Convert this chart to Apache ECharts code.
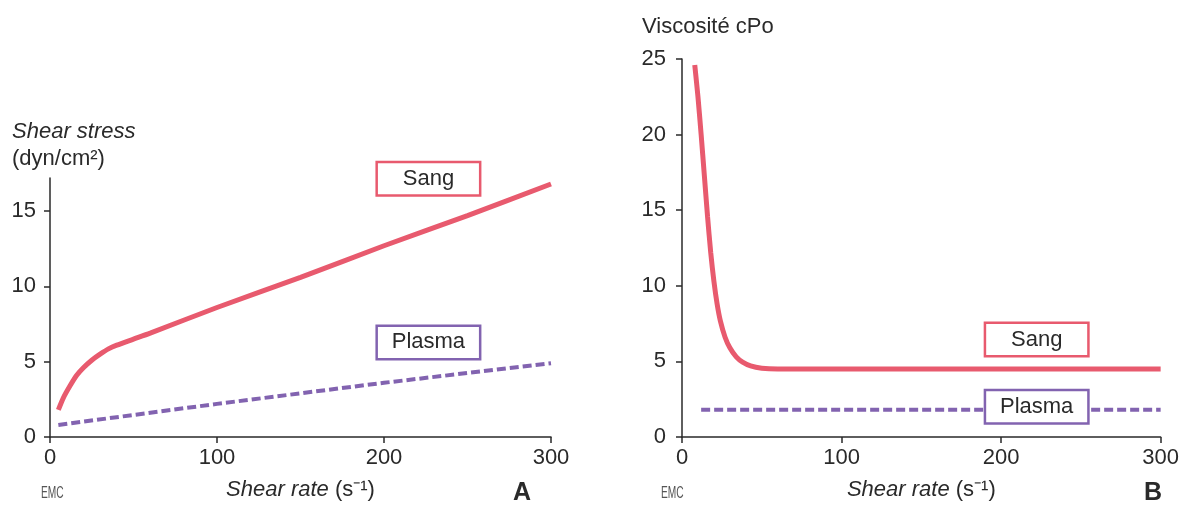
<!DOCTYPE html>
<html>
<head>
<meta charset="utf-8">
<script src="https://cdn.jsdelivr.net/npm/echarts@6/dist/echarts.min.js"></script>
<style>
  html, body { margin: 0; padding: 0; background: #fff; }
  #chart { width: 1182px; height: 506px; }
</style>
</head>
<body>
<div id="chart"></div>
<script>
// valeurs (shear rate en s-1)
const stressTicks = [0, 5, 10, 15]
const viscTicks = [0, 5, 10, 15, 20, 25]
const rateTicks = [0, 100, 200, 300]

// A : contrainte de cisaillement
const sangStress = [
  [5, 1.8], [8, 2.6], [12, 3.4], [16, 4.1], [20, 4.6], [25, 5.1], [30, 5.5],
  [35, 5.85], [40, 6.1], [50, 6.5], [60, 6.9], [100, 8.6], [150, 10.6],
  [200, 12.7], [250, 14.7], [300, 16.8]
]
const plasmaStress = [[5, 0.8], [100, 2.2], [200, 3.6], [300, 4.9]]

// B : viscosité
const sangVisc = [
  [8, 24.6], [10, 22.5], [12, 20.0], [14, 17.3], [16, 14.6], [18, 12.2],
  [20, 10.3], [22, 8.8], [24, 7.7], [27, 6.6], [30, 5.9], [34, 5.3],
  [38, 4.95], [43, 4.7], [50, 4.55], [60, 4.5], [150, 4.5], [300, 4.5]
]
const plasmaVisc = [[12, 1.8], [300, 1.8]]

const RED = '#e85a6e'
const PURPLE = '#8263b0'
const INK = '#2a2a2a'
const FONT = '"Liberation Sans", Arial, sans-serif'

const chart = echarts.init(document.getElementById('chart'))

function xAxis(idx) {
  return {
    type: 'value', gridIndex: idx, min: 0, max: 300, interval: 100,
    axisLine: { lineStyle: { color: INK, width: 1.5 } },
    axisTick: { length: 6, customValues: rateTicks, lineStyle: { color: INK, width: 1.5 } },
    axisLabel: { color: INK, fontSize: 22, fontFamily: FONT, margin: 10, customValues: rateTicks },
    splitLine: { show: false },
    name: '{i|Shear rate} (s⁻¹)',
    nameLocation: 'middle', nameGap: 42,
    nameTextStyle: {
      color: INK, fontSize: 22, fontFamily: FONT,
      rich: { i: { fontStyle: 'italic', fontSize: 22, fontFamily: FONT, color: INK } }
    }
  }
}

function yAxis(idx, max, ticks, margin) {
  return {
    type: 'value', gridIndex: idx, min: 0, max: max,
    axisLine: { show: true, lineStyle: { color: INK, width: 1.5 } },
    axisTick: { show: true, length: 6, customValues: ticks, lineStyle: { color: INK, width: 1.5 } },
    axisLabel: { color: INK, fontSize: 22, fontFamily: FONT, margin: margin, customValues: ticks },
    splitLine: { show: false }
  }
}

function boxLabel(text, color, x, y) {
  return {
    coord: [x, y], symbolSize: 0,
    label: {
      show: true, formatter: text, position: 'inside',
      color: INK, fontSize: 22, fontFamily: FONT,
      backgroundColor: '#fff', borderColor: color, borderWidth: 2.5,
      width: 97, height: 29, align: 'center', verticalAlign: 'middle',
      lineHeight: 29, padding: [1, 2]
    }
  }
}

chart.setOption({
  animation: false,
  backgroundColor: '#fff',
  grid: [
    { left: 50, top: 178, width: 501, height: 262 },
    { left: 682, top: 59, width: 498, height: 381 }
  ],
  xAxis: [xAxis(0), xAxis(1)],
  yAxis: [yAxis(0, 17.2, stressTicks, 14), yAxis(1, 25, viscTicks, 16)],
  graphic: [
    { type: 'text', left: 12, top: 121, style: { text: 'Shear stress', font: 'italic 22px ' + FONT, fill: INK } },
    { type: 'text', left: 12, top: 148, style: { text: '(dyn/cm²)', font: '22px ' + FONT, fill: INK } },
    { type: 'text', left: 642, top: 16, style: { text: 'Viscosité cPo', font: '22px ' + FONT, fill: INK } },
    { type: 'text', left: 513, top: 481, style: { text: 'A', font: 'bold 25px ' + FONT, fill: INK } },
    { type: 'text', left: 1144, top: 481, style: { text: 'B', font: 'bold 25px ' + FONT, fill: INK } },
    { type: 'text', left: 41, top: 485, scaleX: 0.6, style: { text: 'EMC', font: '17px ' + FONT, fill: '#555' } },
    { type: 'text', left: 661, top: 485, scaleX: 0.6, style: { text: 'EMC', font: '17px ' + FONT, fill: '#555' } }
  ],
  series: [
    {
      type: 'line', xAxisIndex: 0, yAxisIndex: 0, data: sangStress,
      showSymbol: false, smooth: 0.25,
      lineStyle: { color: RED, width: 5 },
      markPoint: { silent: true, data: [boxLabel('Sang', RED, 226.6, 17.15)] }
    },
    {
      type: 'line', xAxisIndex: 0, yAxisIndex: 0, data: plasmaStress,
      showSymbol: false,
      lineStyle: { color: PURPLE, width: 4, type: [9, 4] },
      markPoint: { silent: true, data: [boxLabel('Plasma', PURPLE, 226.6, 6.28)] }
    },
    {
      type: 'line', xAxisIndex: 1, yAxisIndex: 1, data: sangVisc,
      showSymbol: false, smooth: 0.25,
      lineStyle: { color: RED, width: 5 },
      markPoint: { silent: true, data: [boxLabel('Sang', RED, 222.3, 6.45)] }
    },
    {
      type: 'line', xAxisIndex: 1, yAxisIndex: 1, data: plasmaVisc,
      showSymbol: false, z: 1,
      lineStyle: { color: PURPLE, width: 4, type: [9, 4] },
      markPoint: { silent: true, data: [boxLabel('Plasma', PURPLE, 222.3, 2.0)] }
    }
  ]
})
</script>
</body>
</html>
